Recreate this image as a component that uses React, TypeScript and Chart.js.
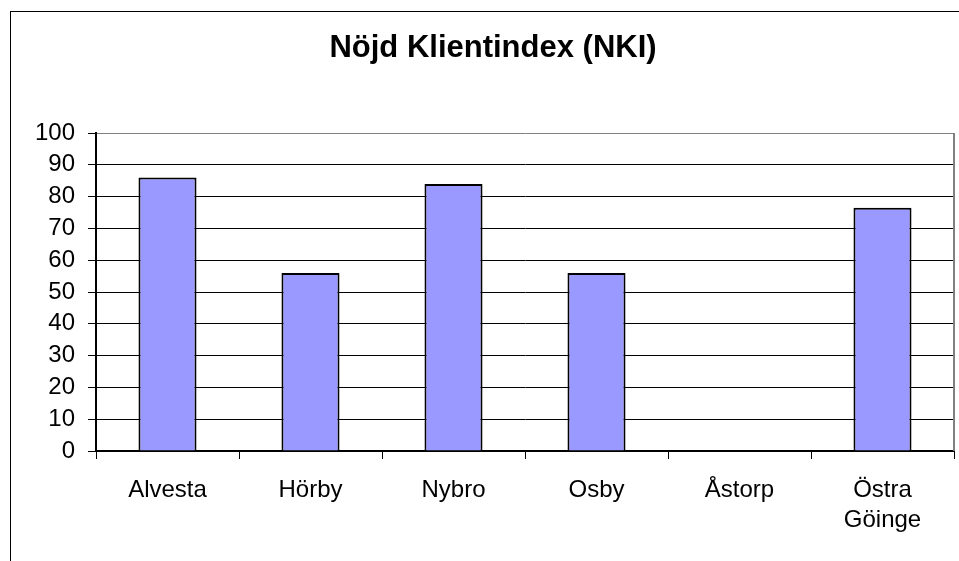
import React, { useEffect, useRef } from "react";
import { Chart, registerables } from "chart.js";

Chart.register(...registerables);

const chartTitle = "Nöjd Klientindex (NKI)";
const categories: (string | string[])[] = ["Alvesta", "Hörby", "Nybro", "Osby", "Åstorp", ["Östra", "Göinge"]];
const nkiValues: (number | null)[] = [86, 56, 84, 56, null, 76.5];
const yMin = 0;
const yMax = 100;
const yStep = 10;

const FONT = "'Liberation Sans', Arial, Helvetica, sans-serif";

const plotFrame = {
  id: "plotFrame",
  afterDraw(chart: any) {
    const { ctx, chartArea: a } = chart;
    ctx.save();
    ctx.strokeStyle = "#808080";
    ctx.lineWidth = 2;
    ctx.beginPath();
    ctx.moveTo(a.right, a.top);
    ctx.lineTo(a.right, a.bottom);
    ctx.stroke();
    ctx.restore();
  },
};

export default function App() {
  const ref = useRef<HTMLCanvasElement | null>(null);

  useEffect(() => {
    if (!ref.current) return;
    const chart = new Chart(ref.current, {
      type: "bar",
      data: {
        labels: categories,
        datasets: [
          {
            data: nkiValues,
            backgroundColor: "#9999FF",
            borderColor: "#000000",
            borderWidth: 2,
            categoryPercentage: 1,
            barPercentage: 0.406,
          },
        ],
      },
      options: {
        animation: false,
        responsive: false,
        maintainAspectRatio: false,
        layout: { padding: { left: 0, right: 5, top: 0, bottom: 0 } },
        plugins: {
          legend: { display: false },
          tooltip: { enabled: false },
          title: {
            display: true,
            text: chartTitle,
            color: "#000",
            font: { family: FONT, size: 31, weight: "bold", lineHeight: 1.2 },
            padding: { top: 30, bottom: 65.8 },
          },
        },
        scales: {
          x: {
            type: "category",
            offset: true,
            grid: {
              offset: true,
              drawOnChartArea: false,
              drawTicks: true,
              tickLength: 8,
              color: "#000",
            },
            border: { display: true, color: "#000", width: 2 },
            ticks: {
              color: "#000",
              font: { family: FONT, size: 24, lineHeight: 1.25 },
              padding: 16,
              maxRotation: 0,
              autoSkip: false,
            },
            afterFit(scale: any) {
              scale.height = 110;
            },
          },
          y: {
            min: yMin,
            max: yMax,
            grid: {
              color: (c: any) => (c.tick && c.tick.value === yMax ? "#808080" : "#000"),
              tickColor: "#000",
              tickLength: 8,
              lineWidth: 1,
            },
            border: { display: true, color: "#000", width: 2 },
            ticks: {
              stepSize: yStep,
              color: "#000",
              font: { family: FONT, size: 24 },
              padding: 13,
            },
            afterFit(scale: any) {
              scale.width = 64;
            },
          },
        },
      },
      plugins: [plotFrame],
    } as any);
    return () => chart.destroy();
  }, []);

  return (
    <div
      style={{
        position: "fixed",
        left: 0,
        top: 0,
        width: 959,
        height: 561,
        overflow: "hidden",
        background: "#fff",
      }}
    >
      <div
        style={{
          position: "absolute",
          left: 10,
          top: 11,
          width: 1200,
          height: 900,
          borderLeft: "1px solid #000",
          borderTop: "1px solid #000",
        }}
      />
      <canvas
        ref={ref}
        width={927}
        height={561}
        style={{ position: "absolute", left: 32, top: 0, width: 927, height: 561 }}
      />
    </div>
  );
}
